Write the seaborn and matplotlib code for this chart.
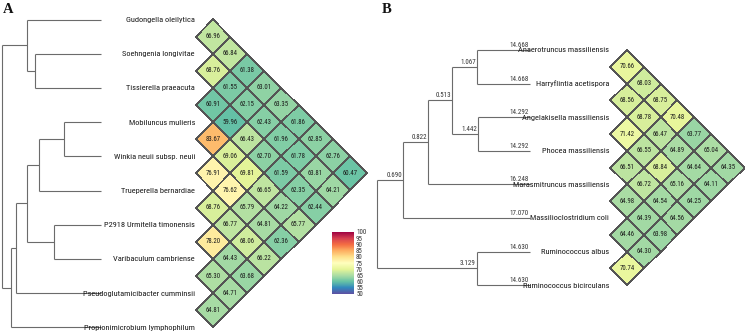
import os
import numpy as np
import pandas as pd
import matplotlib
matplotlib.use("Agg")
import matplotlib.pyplot as plt
from matplotlib.transforms import Affine2D
from matplotlib import font_manager
from matplotlib.font_manager import FontProperties
import matplotlib.colors as mcolors
import seaborn as sns

# ---------------- data ----------------
taxa_A = ["Gudongella oleilytica", "Soehngenia longivitae", "Tissierella praeacuta",
          "Mobiluncus mulieris", "Winkia neuii subsp. neuii", "Trueperella bernardiae",
          "P2918 Urmitella timonensis", "Varibaculum cambriense",
          "Pseudoglutamicibacter cumminsii", "Propionimicrobium lymphophilum"]
# upper triangle rows: values for pairs (i, j>i)
ani_A = [
    [66.96, 66.84, 61.38, 63.01, 63.35, 61.86, 62.85, 62.76, 60.47],
    [68.76, 61.55, 62.15, 62.43, 61.96, 61.78, 63.81, 64.21],
    [60.91, 59.96, 66.43, 62.70, 61.59, 62.35, 62.44],
    [83.67, 69.06, 69.81, 66.65, 64.22, 65.77],
    [76.91, 76.62, 65.79, 64.81, 62.36],
    [68.76, 66.77, 68.06, 66.22],
    [78.20, 64.43, 63.68],
    [65.30, 64.71],
    [64.81],
]

taxa_B = ["Anaerotruncus massiliensis", "Harryflintia acetispora", "Angelakisella massiliensis",
          "Phocea massiliensis", "Marasmitruncus massiliensis", "Massilioclostridium coli",
          "Ruminococcus albus", "Ruminococcus bicirculans"]
ani_B = [
    [70.66, 68.03, 68.75, 70.48, 63.77, 65.04, 64.35],
    [68.56, 68.78, 66.47, 64.89, 64.64, 64.11],
    [71.42, 66.55, 68.84, 65.16, 64.25],
    [66.51, 66.72, 64.54, 64.56],
    [64.98, 64.39, 63.98],
    [64.46, 64.30],
    [70.74],
]
leaf_len_B = ["14.668", "14.668", "14.292", "14.292", "16.248", "17.070", "14.630", "14.630"]
# internal branch labels (branch leading to the named node)
node_len_B = {"AH": "1.067", "AP": "1.442", "n4": "0.513", "n5": "0.822", "n6": "0.690", "R": "3.129"}

cbar_ticks = [50, 55, 60, 65, 70, 75, 80, 85, 90, 95, 100]

# ---------------- fonts ----------------
sns.set_style("white")
plt.rcParams["font.family"] = ["Liberation Sans", "DejaVu Sans"]


def pick_condensed():
    files = [f.fname for f in font_manager.fontManager.ttflist]
    prefs = ["LiberationSansNarrow-Regular", "RobotoCondensed-Regular", "Roboto_Condensed-Regular",
             "NotoSans-CondensedMedium", "NotoSans-Condensed.", "NotoSans-CondensedRegular",
             "DejaVuSansCondensed.ttf", "OpenSans-CondensedRegular", "OpenSans_Condensed-Regular"]
    for p in prefs:
        for fn in files:
            if p.lower() in os.path.basename(fn).lower():
                return fn
    for fn in files:
        b = os.path.basename(fn).lower()
        if ("condensed" in b or "narrow" in b) and not any(
                s in b for s in ["bold", "italic", "oblique", "light", "thin", "black", "extra", "semi", "ultra"]):
            return fn
    return None


cfile = pick_condensed()
if cfile:
    LABFP = lambda size: FontProperties(fname=cfile, size=size)
    SCALE = 1.0
else:
    LABFP = lambda size: FontProperties(family=["Liberation Sans", "DejaVu Sans"], size=size)
    SCALE = 0.82

# ---------------- layout ----------------
W, H = 745, 333
fig = plt.figure(figsize=(W / 100, H / 100), dpi=100)
ax = fig.add_axes([0, 0, 1, 1])

LINE = "#6b6b6b"
EDGE = "#555555"
cmap = sns.color_palette("Spectral_r", as_cmap=True)
LAB_FS = 6.0 * SCALE
NUM_FS = 5.0 * SCALE
ANN_FS = 4.9 * SCALE


def to_matrix(rows, n):
    m = np.full((n, n), np.nan)
    for i, r in enumerate(rows):
        for k, v in enumerate(r):
            m[i, i + 1 + k] = v
    return m


def diamond_heatmap(rows, n, x1, y0, h):
    m = to_matrix(rows, n)
    mask = np.isnan(m)
    df = pd.DataFrame(m)
    ntext = len(ax.texts)
    sns.heatmap(df, mask=mask, ax=ax, cmap=cmap, vmin=50, vmax=100,
                annot=True, fmt=".2f", cbar=False, linewidths=0.35, linecolor=EDGE,
                annot_kws={"fontsize": ANN_FS, "color": "#1a1a1a"}, xticklabels=False,
                yticklabels=False)
    mesh = ax.collections[-1]
    edge_rgba = np.array(mcolors.to_rgba(EDGE))
    ecs = np.tile(edge_rgba, (mask.size, 1))
    ecs[mask.ravel(), 3] = 0.0
    mesh.set_edgecolor(ecs)
    aff = Affine2D(np.array([[h, -h, x1 - h], [h, h, y0 - h], [0, 0, 1]]))
    mesh.set_transform(aff + ax.transData)
    for t in ax.texts[ntext:]:
        t.set_transform(aff + ax.transData)
        t.set_color("#1a1a1a")
        t.set_fontproperties(LABFP(ANN_FS))
    return mesh


def draw_tree(nodes, leaf_y, leaf_x):
    pos = {i: (leaf_x, y) for i, y in enumerate(leaf_y)}

    def get(k):
        if k in pos:
            return pos[k]
        x, ch = nodes[k]
        ys = [get(c)[1] for c in ch]
        pos[k] = (x, float(np.mean(ys)))
        return pos[k]

    for k in nodes:
        get(k)
    for k, (x, ch) in nodes.items():
        ys = [pos[c][1] for c in ch]
        ax.plot([x, x], [min(ys), max(ys)], color=LINE, lw=0.8, solid_capstyle="butt")
        for c in ch:
            cx, cy = pos[c]
            ax.plot([x, cx], [cy, cy], color=LINE, lw=0.8, solid_capstyle="butt")
    return pos


# ---------------- panel A ----------------
sA = 34.2
yA = [19.5 + i * sA for i in range(len(taxa_A))]
meshA = diamond_heatmap(ani_A, len(taxa_A), 213, 19.5, sA / 2)

nodes_A = {
    "ST": (35, [1, 2]),
    "G": (27, [0, "ST"]),
    "MW": (64, [3, 4]),
    "MWT": (39, ["MW", 5]),
    "PV": (54, [6, 7]),
    "core": (27, ["MWT", "PV"]),
    "ps": (16, ["core", 8]),
    "pr": (11, ["ps", 9]),
    "root": (2, ["G", "pr"]),
}
draw_tree(nodes_A, yA, 101)
for name, y in zip(taxa_A, yA):
    ax.text(195, y + 0.5, name, ha="right", va="center", fontproperties=LABFP(LAB_FS),
            color="#1a1a1a")

# ---------------- panel B ----------------
sB = 33.6
yB = [50 + i * sB for i in range(len(taxa_B))]
diamond_heatmap(ani_B, len(taxa_B), 627, 50, sB / 2)

nodes_B = {
    "AH": (477, [0, 1]),
    "AP": (478, [2, 3]),
    "n4": (452, ["AH", "AP"]),
    "n5": (428, ["n4", 4]),
    "n6": (403, ["n5", 5]),
    "R": (477, [6, 7]),
    "root": (377, ["n6", "R"]),
}
posB = draw_tree(nodes_B, yB, 530)
for i, lab in enumerate(leaf_len_B):
    x, y = posB[i]
    ax.text(x - 1, y - 1.0, lab, ha="right", va="bottom", fontproperties=LABFP(NUM_FS),
            color="#333333")
for k, lab in node_len_B.items():
    x, y = posB[k]
    ax.text(x - 1, y - 1.0, lab, ha="right", va="bottom", fontproperties=LABFP(NUM_FS),
            color="#333333")
for name, y in zip(taxa_B, yB):
    ax.text(609, y + 0.5, name, ha="right", va="center", fontproperties=LABFP(LAB_FS),
            color="#1a1a1a")

# panel letters
ax.text(3, 13, "A", fontsize=10.5, fontweight="bold", family="Liberation Serif", color="#111111")
ax.text(382, 13, "B", fontsize=10.5, fontweight="bold", family="Liberation Serif", color="#111111")

ax.set_xlim(0, W)
ax.set_ylim(H, 0)
ax.axis("off")

# colorbar
cax = fig.add_axes([332 / W, 1 - 294 / H, 22 / W, 62 / H])
cb = fig.colorbar(meshA, cax=cax, ticks=cbar_ticks)
cb.outline.set_visible(False)
cax.tick_params(length=0, labelsize=NUM_FS, pad=1.5, colors="#333333")
for t in cax.get_yticklabels():
    t.set_fontproperties(LABFP(NUM_FS))

fig.savefig("out.png", dpi=100, facecolor="white")
